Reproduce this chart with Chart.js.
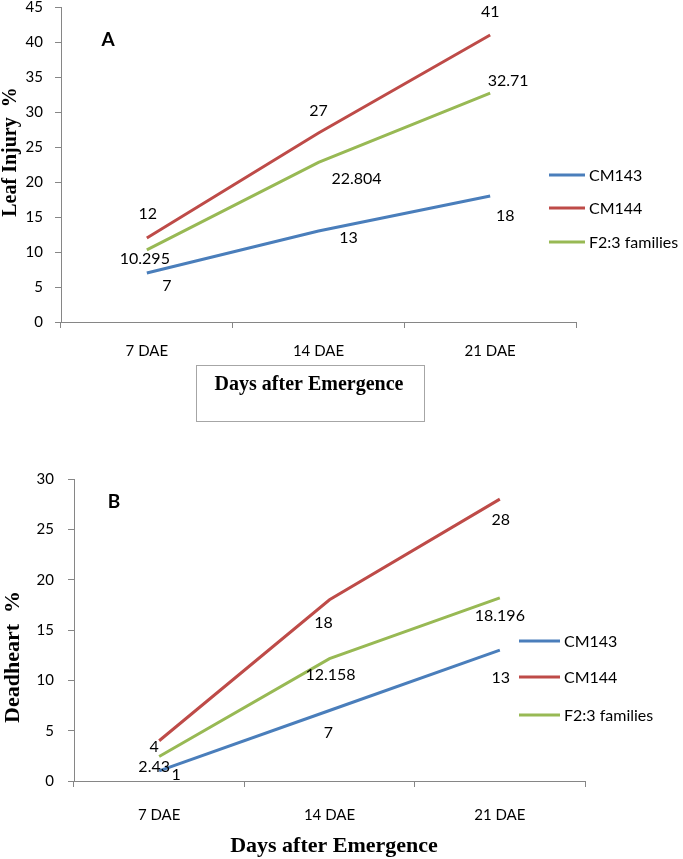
<!DOCTYPE html>
<html>
<head>
<meta charset="utf-8">
<script src="https://cdn.jsdelivr.net/npm/chart.js@4.4.0/dist/chart.umd.min.js"></script>
<style>
  body { margin: 0; background: #fff; }
  #wrap { position: relative; width: 683px; height: 859px; overflow: hidden; background: #fff; }
  canvas { position: absolute; left: 0; }
</style>
</head>
<body>
<div id="wrap">
  <canvas id="chartA" width="683" height="450" style="top:-20px"></canvas>
  <canvas id="chartB" width="683" height="449" style="top:410px"></canvas>
</div>
<script>
var categories = ["7 DAE", "14 DAE", "21 DAE"];
var seriesNames = ["CM143", "CM144", "F2:3 families"];
var seriesColors = ["#4a7ebb", "#be4b48", "#98b954"];

// panel A: leaf injury %
var leafCM143 = [7, 13, 18];
var leafCM144 = [12, 27, 41];
var leafF23 = [10.295, 22.804, 32.71];
var leafTicks = [0, 5, 10, 15, 20, 25, 30, 35, 40, 45];

// panel B: deadheart %
var deadCM143 = [1, 7, 13];
var deadCM144 = [4, 18, 28];
var deadF23 = [2.43, 12.158, 18.196];
var deadTicks = [0, 5, 10, 15, 20, 25, 30];

var axisGrey = "#868686";
var sans = "Lato";
var serif = "'Liberation Serif', 'Times New Roman', serif";

// draws value labels, legend, panel letter and axis titles
var overlay = {
  id: "overlay",
  afterDraw: function(chart) {
    var o = chart.options.plugins.overlay;
    var ctx = chart.ctx;
    ctx.save();
    ctx.fillStyle = "#000";
    ctx.textAlign = "center";
    ctx.textBaseline = "middle";
    ctx.font = "16px " + sans;
    chart.data.datasets.forEach(function(ds, i) {
      var meta = chart.getDatasetMeta(i);
      meta.data.forEach(function(pt, j) {
        var off = o.offsets[i][j];
        ctx.fillText(String(ds.data[j]), pt.x + off[0], pt.y + off[1]);
      });
    });

    // legend
    ctx.textAlign = "left";
    chart.data.datasets.forEach(function(ds, i) {
      var y = o.legend.y[i];
      ctx.strokeStyle = ds.borderColor;
      ctx.lineWidth = 3;
      ctx.beginPath();
      ctx.moveTo(o.legend.x1, y);
      ctx.lineTo(o.legend.x2, y);
      ctx.stroke();
      ctx.fillStyle = "#000";
      ctx.fillText(ds.label, o.legend.tx, y + 1);
    });

    // panel letter
    ctx.textAlign = "center";
    ctx.font = "bold 19px " + sans;
    ctx.fillText(o.letter.text, o.letter.x, o.letter.y);

    // x title (optionally boxed)
    if (o.xbox) {
      ctx.strokeStyle = "#a6a6a6";
      ctx.lineWidth = 1;
      ctx.strokeRect(o.xbox[0] + 0.5, o.xbox[1] + 0.5, o.xbox[2], o.xbox[3]);
    }
    ctx.font = "bold " + o.titleSize + "px " + serif;
    ctx.fillText(o.xtitle.text, o.xtitle.x, o.xtitle.y);

    // y title
    ctx.translate(o.ytitle.x, o.ytitle.y);
    ctx.rotate(-Math.PI / 2);
    ctx.fillText(o.ytitle.text, 0, 0);
    ctx.restore();
  }
};

function makeDatasets(a, b, c) {
  return [a, b, c].map(function(vals, i) {
    return {
      label: seriesNames[i],
      data: vals,
      borderColor: seriesColors[i],
      backgroundColor: seriesColors[i],
      borderWidth: 3,
      pointRadius: 0,
      tension: 0,
      fill: false
    };
  });
}

function makeScales(ticks, yWidth, xHeight, yPad, xPad) {
  return {
    x: {
      offset: true,
      grid: { offset: true, drawOnChartArea: false, drawTicks: true, tickLength: 6, color: axisGrey },
      border: { color: axisGrey },
      ticks: { color: "#000", padding: xPad, font: { family: sans, size: 15 } },
      afterFit: function(s) { s.height = xHeight; }
    },
    y: {
      min: ticks[0],
      max: ticks[ticks.length - 1],
      grid: { drawOnChartArea: false, drawTicks: true, tickLength: 6, color: axisGrey },
      border: { color: axisGrey },
      ticks: { stepSize: ticks[1] - ticks[0], color: "#000", padding: yPad, font: { family: sans, size: 15 } },
      afterFit: function(s) { s.width = yWidth; }
    }
  };
}

var configA = {
  type: "line",
  data: { labels: categories, datasets: makeDatasets(leafCM143, leafCM144, leafF23) },
  options: {
    responsive: false,
    animation: false,
    devicePixelRatio: 1,
    layout: { padding: { left: 0, top: 27, right: 107, bottom: 0 } },
    scales: makeScales(leafTicks, 61, 108, 12, 14),
    plugins: {
      legend: { display: false },
      tooltip: { enabled: false },
      overlay: {
        offsets: [
          [[20, 13], [30, 7], [15, 20]],
          [[1, -24], [0, -22], [0, -23]],
          [[-2, 9], [38, 16], [18, -12]]
        ],
        legend: { x1: 549, x2: 585, tx: 589, y: [195, 228, 262] },
        letter: { text: "A", x: 108, y: 60 },
        titleSize: 20,
        xtitle: { text: "Days after Emergence", x: 309, y: 405 },
        xbox: [196, 385, 228, 56],
        ytitle: { text: "Leaf Injury  %", x: 11, y: 172 }
      }
    }
  },
  plugins: [overlay]
};

var configB = {
  type: "line",
  data: { labels: categories, datasets: makeDatasets(deadCM143, deadCM144, deadF23) },
  options: {
    responsive: false,
    animation: false,
    devicePixelRatio: 1,
    layout: { padding: { left: 0, top: 69, right: 98, bottom: 0 } },
    scales: makeScales(deadTicks, 74, 78, 14, 19),
    plugins: {
      legend: { display: false },
      tooltip: { enabled: false },
      overlay: {
        offsets: [
          [[17, 4], [-1, 22], [1, 28]],
          [[-5, 6], [-6, 23], [1, 21]],
          [[-5, 10], [1, 16], [0, 18]]
        ],
        legend: { x1: 519, x2: 560, tx: 564, y: [231, 267, 305] },
        letter: { text: "B", x: 114, y: 92 },
        titleSize: 22,
        xtitle: { text: "Days after Emergence", x: 334, y: 436 },
        xbox: null,
        ytitle: { text: "Deadheart  %", x: 13, y: 247 }
      }
    }
  },
  plugins: [overlay]
};

var chartA = new Chart(document.getElementById("chartA").getContext("2d"), configA);
var chartB = new Chart(document.getElementById("chartB").getContext("2d"), configB);
</script>
</body>
</html>
